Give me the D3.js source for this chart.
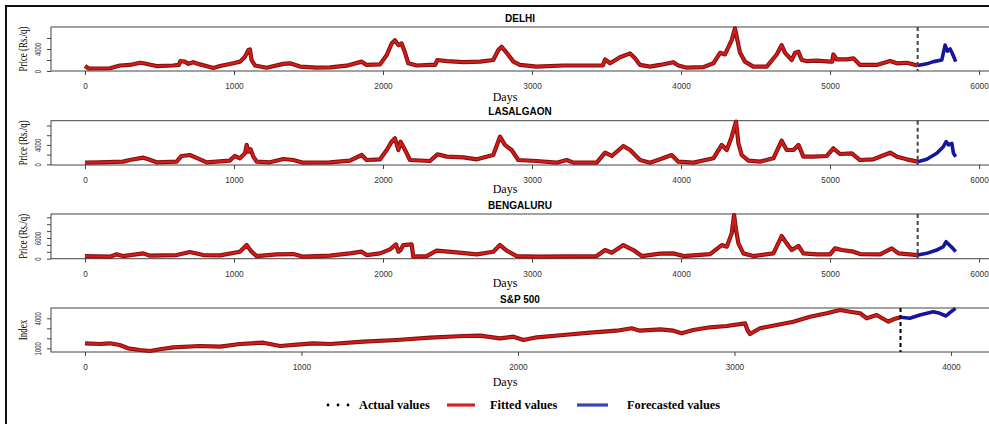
<!DOCTYPE html>
<html>
<head>
<meta charset="utf-8">
<script src="https://cdn.jsdelivr.net/npm/d3@7/dist/d3.min.js"></script>
<style>
  body { margin: 0; background: #fff; }
  svg { display: block; }
  .tick text { font-family: "Liberation Sans", Arial, sans-serif; font-size: 8.3px; fill: #333; }
  .tick line { stroke: #444; }
</style>
</head>
<body>
<svg width="989" height="424"></svg>
<script>
// ---- data: [day, value] ----
var delhiFitted = [[0,900],[25,450],[168,500],[235,1000],[300,1100],[370,1500],[392,1400],[480,900],[590,1000],[630,1100],[640,1800],[670,1700],[694,1300],[727,1600],[772,1200],[862,560],[906,900],[996,1420],[1040,1700],[1074,2600],[1096,3800],[1107,3900],[1118,2000],[1141,1000],[1219,600],[1331,1300],[1376,1400],[1443,800],[1555,600],[1644,650],[1756,970],[1857,1700],[1890,1100],[1980,1200],[2025,2900],[2058,5000],[2080,5600],[2103,4700],[2125,5000],[2148,3300],[2170,1400],[2226,1000],[2315,1100],[2350,1100],[2365,2000],[2428,1800],[2540,1600],[2651,1700],[2740,2000],[2774,3800],[2796,4400],[2830,3300],[2875,1700],[2919,1100],[3031,800],[3210,1000],[3434,1000],[3475,1000],[3490,2100],[3524,1400],[3590,2500],[3658,3200],[3691,2300],[3725,1100],[3792,800],[3859,1100],[3948,1600],[3982,1000],[4038,600],[4150,700],[4217,1400],[4262,3300],[4295,3000],[4340,5600],[4362,7750],[4378,5600],[4396,3300],[4429,1700],[4485,800],[4575,800],[4642,3000],[4675,4700],[4698,3300],[4743,2000],[4765,3300],[4788,3500],[4810,2000],[4844,1800],[4911,1900],[5000,1700],[5015,1700],[5022,3000],[5045,2100],[5112,2100],[5157,2300],[5201,1100],[5313,1100],[5403,1800],[5448,1400],[5515,1500],[5588,1000]];
var delhiForecast = [[5588,1000],[5649,1300],[5694,1700],[5750,2000],[5772,4700],[5788,3600],[5806,4000],[5824,3000],[5843,1700]];

var lasalFitted = [[0,340],[98,410],[255,550],[300,890],[392,1370],[425,1030],[481,410],[615,550],[648,1720],[704,1920],[772,1030],[816,410],[971,760],[1005,1720],[1040,1240],[1074,2270],[1085,4000],[1096,2600],[1111,3100],[1130,1580],[1152,550],[1241,410],[1331,1100],[1398,890],[1465,340],[1644,410],[1778,760],[1857,1920],[1890,890],[1980,1030],[2025,2950],[2058,4670],[2080,5360],[2103,2950],[2118,4670],[2148,2950],[2181,890],[2315,690],[2365,2060],[2428,1580],[2540,1440],[2630,1030],[2740,1920],[2785,5700],[2818,4000],[2863,2950],[2908,890],[3031,690],[3165,340],[3232,890],[3277,340],[3434,340],[3490,2400],[3535,1720],[3613,3780],[3658,2950],[3725,890],[3792,340],[3859,1030],[3937,1920],[3982,550],[4083,340],[4217,1240],[4273,4000],[4307,2950],[4340,5700],[4369,8800],[4385,4330],[4407,1920],[4452,760],[4530,550],[4620,1240],[4675,4880],[4709,2950],[4754,2950],[4788,4000],[4821,1580],[4888,1580],[4978,1720],[5022,3300],[5067,2130],[5146,2270],[5201,890],[5291,1030],[5403,2400],[5448,1580],[5515,1030],[5588,550]];
var lasalForecast = [[5588,550],[5649,1030],[5716,2270],[5760,3640],[5779,4670],[5795,4000],[5817,4330],[5828,2270],[5843,1580]];

var bengFitted = [[0,770],[168,580],[213,1260],[255,770],[392,1550],[436,870],[615,1060],[704,1930],[794,1060],[906,970],[1040,2030],[1085,3960],[1118,2030],[1152,770],[1286,1260],[1398,1350],[1465,580],[1644,900],[1778,1550],[1857,2030],[1890,1060],[1980,1550],[2047,2700],[2087,4150],[2103,2030],[2118,2510],[2136,3960],[2192,4150],[2203,580],[2293,770],[2360,2320],[2494,1840],[2630,1260],[2740,2030],[2785,3960],[2830,2320],[2897,770],[3031,580],[3434,770],[3490,2510],[3535,1740],[3613,3960],[3680,2510],[3736,770],[3859,1450],[3948,1550],[4016,770],[4195,1350],[4273,3960],[4307,3480],[4340,7340],[4356,12650],[4369,8300],[4385,4440],[4418,1550],[4485,770],[4620,1550],[4675,6570],[4709,4440],[4743,2510],[4788,3670],[4821,1550],[4911,1260],[5000,1260],[5033,2990],[5078,2510],[5157,2030],[5201,1350],[5336,1260],[5414,2990],[5459,1550],[5588,1060]];
var bengForecast = [[5588,1060],[5649,1550],[5716,2510],[5760,3480],[5779,4930],[5801,3960],[5824,2990],[5843,2030]];

var spFitted = [[0,1500],[68,1430],[114,1500],[160,1330],[199,1000],[253,830],[300,730],[346,900],[408,1100],[531,1230],[624,1160],[716,1430],[824,1560],[901,1230],[993,1400],[1055,1500],[1132,1430],[1286,1660],[1440,1830],[1594,2060],[1748,2230],[1825,2260],[1917,2000],[1979,2160],[2025,1830],[2087,2100],[2210,2330],[2333,2560],[2456,2760],[2525,3000],[2564,2760],[2657,2900],[2718,2760],[2756,2500],[2810,2830],[2887,3100],[2964,3230],[3049,3500],[3060,2830],[3072,2430],[3118,3000],[3195,3330],[3272,3660],[3349,4160],[3426,4500],[3488,4830],[3534,4660],[3580,4500],[3611,4000],[3657,4330],[3711,3660],[3734,3900],[3767,4100]];
var spForecast = [[3767,4100],[3810,4000],[3856,4330],[3918,4660],[3949,4500],[3977,4230],[3995,4560],[4021,5000]];

var titles = ["DELHI", "LASALGAON", "BENGALURU", "S&P 500"];
var yLabels = ["Price (Rs./q)", "Price (Rs./q)", "Price (Rs./q)", "Index"];
var onionDayTicks = [0, 1000, 2000, 3000, 4000, 5000, 6000];
var spDayTicks = [0, 1000, 2000, 3000, 4000];
var onionCutDay = 5588;
var spCutDay = 3767;
var legendLabels = ["Actual values", "Fitted values", "Forecasted values"];

// ---- layout ----
var svg = d3.select("svg");
var boxLeft = 51, boxRight = 991;

var panels = [
  { fitted: delhiFitted, forecast: delhiForecast, top: 27, bottom: 71, daysY: 97,
    xDomain: [-228, 6080], xTicks: onionDayTicks, cut: onionCutDay,
    yDomain: [0, 7990], yTicks: [0, 2000, 4000, 6000], yShown: [0, 4000] },
  { fitted: lasalFitted, forecast: lasalForecast, top: 120.7, bottom: 165, daysY: 188.5,
    xDomain: [-228, 6080], xTicks: onionDayTicks, cut: onionCutDay,
    yDomain: [-140, 8990], yTicks: [0, 2000, 4000, 6000, 8000], yShown: [0, 4000] },
  { fitted: bengFitted, forecast: bengForecast, top: 214, bottom: 258.7, daysY: 283,
    xDomain: [-228, 6080], xTicks: onionDayTicks, cut: onionCutDay,
    yDomain: [0, 12960], yTicks: [0, 2000, 4000, 6000, 8000, 10000, 12000], yShown: [0, 6000] },
  { fitted: spFitted, forecast: spForecast, top: 308, bottom: 352, daysY: 382,
    xDomain: [-157, 4185], xTicks: spDayTicks, cut: spCutDay,
    yDomain: [630, 5030], yTicks: [1000, 2000, 3000, 4000], yShown: [1000, 4000] }
];

function drawPanel(p, i) {
  var x = d3.scaleLinear().domain(p.xDomain).range([boxLeft, boxRight]);
  var y = d3.scaleLinear().domain(p.yDomain).range([p.bottom, p.top]);

  // x axis
  svg.append("g")
    .attr("transform", `translate(0, ${p.bottom})`)
    .call(d3.axisBottom(x).tickValues(p.xTicks).tickSize(4).tickPadding(8.5).tickFormat(d3.format("d")))
    .call(function (g) { g.select(".domain").remove(); });

  // y axis, labels parallel to the axis
  var yAxis = svg.append("g")
    .attr("transform", `translate(${boxLeft}, 0)`)
    .call(d3.axisLeft(y).tickValues(p.yTicks).tickSize(4)
      .tickFormat(function (d) { return p.yShown.indexOf(d) >= 0 ? d : ""; }));
  yAxis.select(".domain").remove();
  yAxis.selectAll(".tick text")
    .attr("x", null).attr("dy", null)
    .attr("text-anchor", "middle")
    .attr("transform", "translate(-10, 0) scale(1, 0.72) rotate(-90)");

  // box
  svg.append("rect")
    .attr("x", boxLeft).attr("y", p.top)
    .attr("width", boxRight - boxLeft).attr("height", p.bottom - p.top)
    .attr("fill", "none").attr("stroke", "#444").attr("stroke-width", 1);

  var line = d3.line().x(function (d) { return x(d[0]); }).y(function (d) { return y(d[1]); });

  // actual values (dark, underneath), fitted on top, then forecast
  svg.append("path").datum(p.fitted).attr("d", line)
    .attr("fill", "none").attr("stroke", "#7c1212").attr("stroke-width", 4.2)
    .attr("stroke-linejoin", "round");
  svg.append("path").datum(p.fitted).attr("d", line)
    .attr("fill", "none").attr("stroke", "#d91a17").attr("stroke-width", 2.1)
    .attr("stroke-linejoin", "round");
  svg.append("path").datum(p.forecast).attr("d", line)
    .attr("fill", "none").attr("stroke", "#16169c").attr("stroke-width", 3.6)
    .attr("stroke-linejoin", "round");

  // cut-off between fitted and forecast
  svg.append("line")
    .attr("x1", x(p.cut)).attr("x2", x(p.cut))
    .attr("y1", p.top).attr("y2", p.bottom)
    .attr("stroke", i == 3 ? "#000" : "#444").attr("stroke-width", 2)
    .attr("stroke-dasharray", "4,3");

  // title
  svg.append("text")
    .attr("x", 520).attr("y", p.top - 5.5)
    .attr("text-anchor", "middle")
    .style("font-family", "'Liberation Sans', Arial, sans-serif")
    .style("font-weight", "bold").style("font-size", "10px")
    .text(titles[i]);

  // x label
  svg.append("text")
    .attr("x", 505).attr("y", p.daysY + 4)
    .attr("text-anchor", "middle")
    .style("font-family", "'Liberation Serif', 'Times New Roman', serif")
    .style("font-size", "12px")
    .text("Days");

  // y label
  svg.append("text")
    .attr("transform", `translate(27, ${(p.top + p.bottom) / 2}) scale(1, 0.66) rotate(-90)`)
    .attr("text-anchor", "middle")
    .style("font-family", "'Liberation Serif', 'Times New Roman', serif")
    .style("font-size", "13.5px")
    .text(yLabels[i]);
}

panels.forEach(drawPanel);

// legend
var legendY = 405;
var lg = svg.append("g")
  .style("font-family", "'Liberation Serif', 'Times New Roman', serif")
  .style("font-weight", "bold").style("font-size", "12.3px");

[328, 338, 348].forEach(function (cx) {
  lg.append("circle").attr("cx", cx).attr("cy", legendY).attr("r", 1.4).attr("fill", "#000");
});
lg.append("text").attr("x", 359).attr("y", legendY + 4).text(legendLabels[0]);
lg.append("line").attr("x1", 447).attr("x2", 475).attr("y1", legendY).attr("y2", legendY)
  .attr("stroke", "#d42424").attr("stroke-width", 3.2);
lg.append("text").attr("x", 490).attr("y", legendY + 4).text(legendLabels[1]);
lg.append("line").attr("x1", 577).attr("x2", 608).attr("y1", legendY).attr("y2", legendY)
  .attr("stroke", "#3c43b4").attr("stroke-width", 3.2);
lg.append("text").attr("x", 627).attr("y", legendY + 4).text(legendLabels[2]);

// outer frame (left and top edges visible)
svg.append("path")
  .attr("d", "M6,424 V6 H989")
  .attr("fill", "none").attr("stroke", "#111").attr("stroke-width", 2);
</script>
</body>
</html>
